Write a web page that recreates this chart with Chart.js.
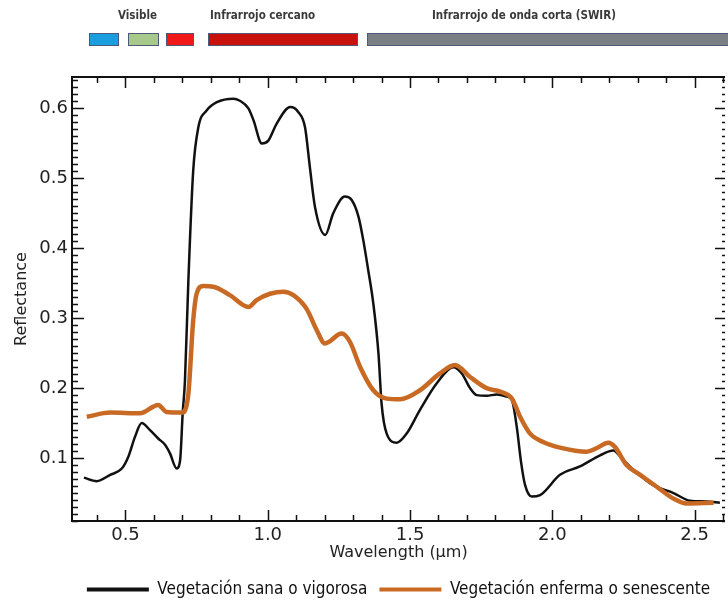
<!DOCTYPE html>
<html>
<head>
<meta charset="utf-8">
<script src="https://cdn.jsdelivr.net/npm/chart.js@4.4.1/dist/chart.umd.min.js"></script>
<style>
  html, body { margin: 0; padding: 0; background: #fff; overflow: hidden; }
  #wrap { position: relative; width: 728px; height: 600px; }
  #wrap canvas { position: absolute; left: 0; top: 0; }
  .band { position: absolute; top: 33px; height: 13px; border: 1px solid #4d5b78; box-sizing: border-box; }
  .lbl { position: absolute; top: 8px; font-size: 11.5px; font-weight: bold; font-family: "DejaVu Sans Condensed", "Liberation Sans Narrow", "DejaVu Sans"; color: #3a3a3a; white-space: nowrap; }
</style>
</head>
<body>
<div id="wrap">
  <canvas id="myChart" width="728" height="600"></canvas>
  <div class="lbl" style="left:118px">Visible</div>
  <div class="lbl" style="left:210px">Infrarrojo cercano</div>
  <div class="lbl" style="left:432px">Infrarrojo de onda corta (SWIR)</div>
  <div class="band" style="left:89px;width:30px;background:#1a9ee0"></div>
  <div class="band" style="left:128px;width:31px;background:#a8c98c"></div>
  <div class="band" style="left:166px;width:28px;background:#f01818"></div>
  <div class="band" style="left:208px;width:150px;background:#c8100c"></div>
  <div class="band" style="left:367px;width:370px;background:#7a7f86"></div>
</div>
<script>
// healthy vegetation (black)
const healthyWavelength = [0.354, 0.399, 0.446, 0.487, 0.510, 0.533, 0.557, 0.586, 0.615, 0.639,
  0.656, 0.680, 0.692, 0.701, 0.709, 0.721, 0.738, 0.756, 0.785, 0.821,
  0.879, 0.902, 0.932, 0.950, 0.979, 1.002, 1.031, 1.079, 1.107, 1.131,
  1.148, 1.166, 1.202, 1.230, 1.271, 1.295, 1.319, 1.336, 1.353, 1.371,
  1.389, 1.400, 1.418, 1.453, 1.488, 1.535, 1.594, 1.652, 1.682, 1.711,
  1.734, 1.769, 1.805, 1.840, 1.858, 1.875, 1.890, 1.904, 1.928, 1.957,
  2.027, 2.097, 2.168, 2.214, 2.244, 2.285, 2.321, 2.356, 2.426, 2.484,
  2.543, 2.589];
const healthyReflectance = [0.072, 0.067, 0.076, 0.085, 0.102, 0.130, 0.150, 0.140, 0.128, 0.119,
  0.107, 0.085, 0.097, 0.164, 0.211, 0.354, 0.511, 0.573, 0.597, 0.609,
  0.614, 0.611, 0.600, 0.583, 0.550, 0.554, 0.578, 0.602, 0.595, 0.573,
  0.516, 0.459, 0.419, 0.450, 0.474, 0.469, 0.445, 0.411, 0.369, 0.321,
  0.250, 0.178, 0.135, 0.122, 0.135, 0.169, 0.207, 0.230, 0.221, 0.200,
  0.190, 0.189, 0.191, 0.188, 0.183, 0.145, 0.095, 0.062, 0.045, 0.047,
  0.076, 0.088, 0.104, 0.111, 0.100, 0.083, 0.071, 0.061, 0.050, 0.039,
  0.038, 0.036];

// stressed / senescent vegetation (orange)
const stressedWavelength = [0.364, 0.446, 0.551, 0.615, 0.644, 0.698, 0.720, 0.738, 0.750, 0.773,
  0.809, 0.867, 0.932, 0.961, 1.008, 1.055, 1.090, 1.137, 1.172, 1.201,
  1.260, 1.289, 1.325, 1.371, 1.418, 1.465, 1.535, 1.605, 1.658, 1.711,
  1.769, 1.817, 1.858, 1.887, 1.922, 1.968, 2.027, 2.121, 2.155, 2.197,
  2.220, 2.261, 2.309, 2.367, 2.426, 2.472, 2.567];
const stressedReflectance = [0.159, 0.165, 0.164, 0.176, 0.166, 0.165, 0.188, 0.297, 0.335, 0.346,
  0.345, 0.333, 0.316, 0.326, 0.335, 0.338, 0.333, 0.313, 0.283, 0.264,
  0.278, 0.266, 0.230, 0.197, 0.185, 0.184, 0.197, 0.221, 0.233, 0.216,
  0.200, 0.195, 0.185, 0.159, 0.135, 0.123, 0.115, 0.109, 0.114, 0.122,
  0.116, 0.090, 0.076, 0.059, 0.042, 0.035, 0.036];

const xTicks = [0.5, 1.0, 1.5, 2.0, 2.5];
const yTicks = [0.1, 0.2, 0.3, 0.4, 0.5, 0.6];

const toPoints = (xs, ys) => xs.map((x, i) => ({ x: x, y: ys[i] }));

const tickFont = { family: "DejaVu Sans", size: 18 };
const titleFont = { family: "DejaVu Sans", size: 16 };
const legendFont = { family: "'DejaVu Sans Condensed', 'Liberation Sans Narrow', 'DejaVu Sans'", size: 17 };

// frame + ticks pointing into the plot, like the IDL-style original
const insideTicks = {
  id: "insideTicks",
  afterDraw(chart) {
    const { ctx, chartArea: a, scales: { x, y } } = chart;
    ctx.save();
    ctx.strokeStyle = "#111";
    ctx.lineWidth = 2;
    ctx.beginPath();
    ctx.moveTo(a.right, a.top);
    ctx.lineTo(a.left, a.top);
    ctx.lineTo(a.left, a.bottom);
    ctx.lineTo(a.right, a.bottom);
    ctx.stroke();

    ctx.lineWidth = 1.5;
    ctx.beginPath();
    for (let i = Math.ceil(x.min * 10); i <= Math.floor(x.max * 10); i++) {
      const px = Math.round(x.getPixelForValue(i / 10)) + 0.5;
      const len = i % 5 === 0 ? 11 : 6;
      ctx.moveTo(px, a.bottom);
      ctx.lineTo(px, a.bottom - len);
      ctx.moveTo(px, a.top);
      ctx.lineTo(px, a.top + len);
    }
    for (let j = Math.ceil(y.min * 100); j <= Math.floor(y.max * 100); j++) {
      const py = Math.round(y.getPixelForValue(j / 100)) + 0.5;
      const major = j % 10 === 0;
      ctx.moveTo(a.left, py);
      ctx.lineTo(a.left + (major ? 12 : 6), py);
      ctx.moveTo(a.right, py);
      ctx.lineTo(a.right - (major ? 10 : 3), py);
    }
    ctx.stroke();
    ctx.restore();
  }
};

const ctx = document.getElementById("myChart").getContext("2d");

new Chart(ctx, {
  type: "line",
  data: {
    datasets: [
      {
        label: "Vegetación sana o vigorosa",
        data: toPoints(healthyWavelength, healthyReflectance),
        borderColor: "#111111",
        borderWidth: 2.5,
        pointRadius: 0,
        cubicInterpolationMode: "monotone",
        order: 1,
      },
      {
        label: "Vegetación enferma o senescente",
        data: toPoints(stressedWavelength, stressedReflectance),
        borderColor: "#c96a24",
        borderWidth: 4.5,
        pointRadius: 0,
        cubicInterpolationMode: "monotone",
        order: 0, // drawn on top of the black line
      },
    ],
  },
  options: {
    responsive: false,
    animation: false,
    layout: { padding: { top: 77, right: 3, left: 0, bottom: -8 } },
    plugins: {
      tooltip: { enabled: false },
      legend: {
        position: "bottom",
        fullSize: false,
        labels: {
          boxWidth: 62,
          boxHeight: 4,
          padding: 12,
          color: "#111",
          font: legendFont,
          sort: (a, b) => a.datasetIndex - b.datasetIndex,
          generateLabels: (chart) =>
            Chart.defaults.plugins.legend.labels.generateLabels(chart).map((l) => {
              l.fillStyle = l.strokeStyle;
              l.lineWidth = 0;
              return l;
            }),
        },
      },
    },
    scales: {
      x: {
        type: "linear",
        min: 0.312,
        max: 2.607,
        afterFit: (s) => { s.height = 48; },
        afterBuildTicks: (s) => { s.ticks = xTicks.map((v) => ({ value: v })); },
        grid: { display: false, drawTicks: false },
        border: { display: false },
        ticks: { padding: 4, color: "#222", font: tickFont, maxRotation: 0, autoSkip: false, callback: (v) => v.toFixed(1) },
        title: { display: true, text: "Wavelength (μm)", color: "#222", font: titleFont, padding: { top: 0, bottom: 7 } },
      },
      y: {
        min: 0.01,
        max: 0.645,
        afterFit: (s) => { s.width = 72; },
        afterBuildTicks: (s) => { s.ticks = yTicks.map((v) => ({ value: v })); },
        grid: { display: false, drawTicks: false },
        border: { display: false },
        ticks: { padding: 4, color: "#222", font: tickFont, callback: (v) => v.toFixed(1) },
        title: { display: true, text: "Reflectance", color: "#222", font: titleFont, padding: { top: 12, bottom: 0 } },
      },
    },
  },
  plugins: [insideTicks],
});
</script>
</body>
</html>
